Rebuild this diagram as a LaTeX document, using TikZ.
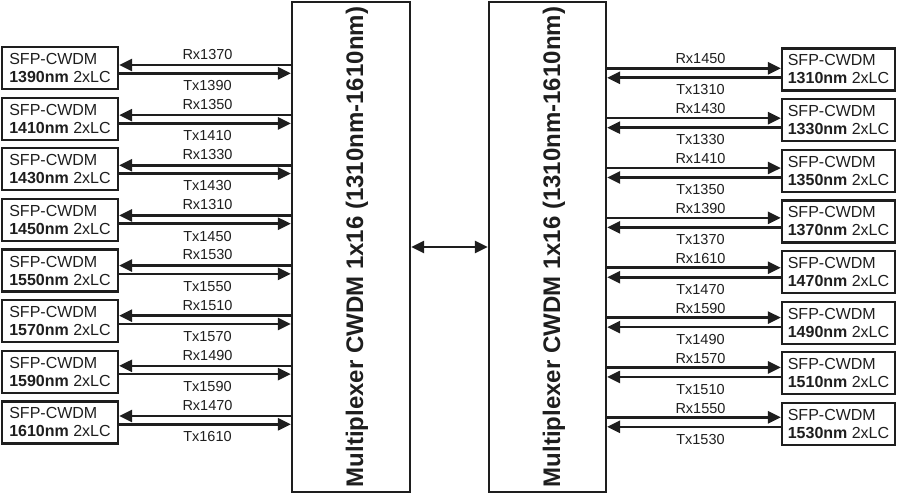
\documentclass[tikz,border=0pt]{standalone}
\usepackage{fontspec}
\setmainfont{Liberation Sans}
\usetikzlibrary{arrows.meta}
\definecolor{ink}{HTML}{1E1E1E}
\begin{document}
\begin{tikzpicture}[x=1pt,y=-1pt,
  sfp/.style={draw=ink, line width=2.2pt, minimum width=116pt, minimum height=42pt, align=left, inner sep=0pt, font=\fontsize{16}{18}\selectfont, text=ink},
  sfpr/.style={sfp, minimum width=113pt},
  mux/.style={draw=ink, line width=2.2pt, minimum height=490pt, inner sep=0pt},
  muxtext/.style={rotate=90, font=\fontsize{24}{28}\selectfont\bfseries, text=ink, inner sep=0pt},
  lbl/.style={font=\fontsize{14.5}{17}\selectfont, text=ink, anchor=base, inner sep=0pt},
  tip/.tip={Triangle[length=13pt,width=12pt]},
  arr/.style={draw=ink, line width=2.6pt, -tip},
]
\useasboundingbox (0,0) rectangle (900,495);
\node[mux, minimum width=118pt] (muxL) at (351,247) {};
\node[mux, minimum width=117pt] (muxR) at (547.5,247) {};
\node[muxtext] (tL) at (357,247) {Multiplexer CWDM 1x16 (1310nm-1610nm)};
\node[muxtext] (tR) at (554,247) {Multiplexer CWDM 1x16 (1310nm-1610nm)};
\draw[arr, tip-tip] (muxL.east) -- (muxR.west);
% left side
\foreach \nm/\rx/\tx [count=\i from 0] in {1390/1370/1390, 1410/1350/1410, 1430/1330/1430, 1450/1310/1450, 1550/1530/1550, 1570/1510/1570, 1590/1490/1590, 1610/1470/1610} {
  \node[sfp] (sL\i) at (60, {68+50.64*\i}) {SFP-CWDM\\\textbf{\nm nm} 2xLC};
  \pgfmathsetmacro\ry{65+50.14*\i}
  \pgfmathsetmacro\ty{\ry+8.3}
  \draw[arr] (muxL.west |- 0,\ry) -- (sL\i.east |- 0,\ry);
  \draw[arr] (sL\i.east |- 0,\ty) -- (muxL.west |- 0,\ty);
  \node[lbl] (rL\i) at (207.5,\ry-5.7) {Rx\rx};
  \node[lbl] (xL\i) at (207.5,\ry+25.7) {Tx\tx};
}
% right side
\foreach \nm/\rx/\tx [count=\i from 0] in {1310/1450/1310, 1330/1430/1330, 1350/1410/1350, 1370/1390/1370, 1470/1610/1470, 1490/1590/1490, 1510/1570/1510, 1530/1550/1530} {
  \node[sfpr] (sR\i) at (838.5, {69.5+50.64*\i}) {SFP-CWDM\\\textbf{\nm nm} 2xLC};
  \pgfmathsetmacro\ry{68.3+49.86*\i}
  \pgfmathsetmacro\ty{\ry+9.5}
  \draw[arr] (muxR.east |- 0,\ry) -- (sR\i.west |- 0,\ry);
  \draw[arr] (sR\i.west |- 0,\ty) -- (muxR.east |- 0,\ty);
  \node[lbl] (rR\i) at (700.5,\ry-4.3) {Rx\rx};
  \node[lbl] (xR\i) at (700.5,\ry+26.7) {Tx\tx};
}
\end{tikzpicture}
\end{document}
